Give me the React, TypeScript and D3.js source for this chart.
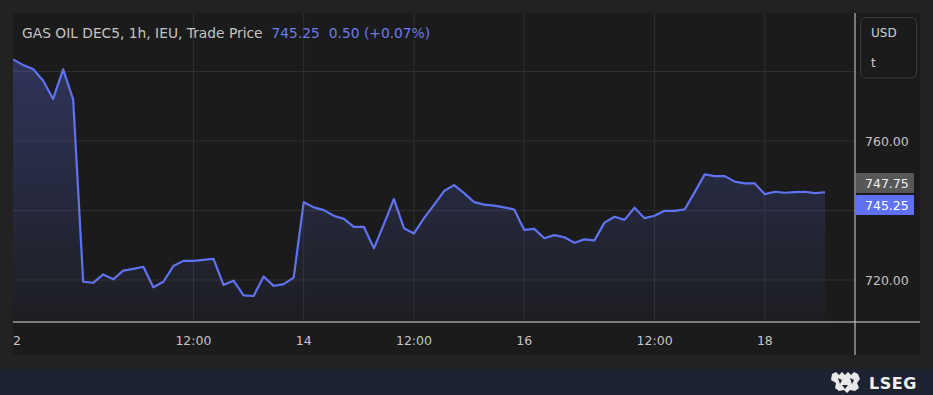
import React from "react";
import * as d3 from "d3";

const prices: number[] = [
  783.5, 781.9, 780.7, 777.4, 772.1, 780.6, 772.0, 719.5, 719.2, 721.6,
  720.2, 722.7, 723.2, 723.8, 717.9, 719.5, 724.0, 725.5, 725.5, 725.8,
  726.1, 718.6, 719.8, 715.6, 715.4, 721.0, 718.3, 718.8, 720.7, 742.4,
  740.9, 740.1, 738.5, 737.6, 735.3, 735.3, 729.1, 736.1, 743.3, 734.9,
  733.4, 737.8, 741.6, 745.6, 747.3, 745.0, 742.4, 741.7, 741.4, 740.9,
  740.3, 734.4, 734.7, 732.0, 732.9, 732.3, 730.7, 731.7, 731.4, 736.5,
  738.2, 737.3, 740.8, 737.8, 738.5, 739.9, 739.9, 740.3, 745.3, 750.4,
  749.9, 749.9, 748.3, 747.8, 747.8, 744.7, 745.4, 745.1, 745.3, 745.4,
  745.0, 745.25,
];

const xTickIndex: number[] = [0, 18, 29, 40, 51, 64, 75];
const xTickLabels: string[] = ["12", "12:00", "14", "12:00", "16", "12:00", "18"];
const yGridValues: number[] = [720, 740, 760, 780];
const yLabelValues: number[] = [720, 760];

const title = "GAS OIL DEC5, 1h, IEU, Trade Price";
const lastPrice = 745.25;
const change = "0.50 (+0.07%)";
const refPrice = 747.75;

const W = 933;
const H = 395;
const plotLeft = 13;
const plotRight = 855;
const plotTop = 13;
const plotBottom = 322;
const FONT = "'DejaVu Sans', 'Open Sans', sans-serif";
const LINE = "#5f72f2";

export default function App() {
  const x = d3.scaleLinear().domain([0, prices.length - 1]).range([13, 825]);
  const y = d3.scaleLinear().domain([720, 760]).range([280, 141]);

  const line = d3
    .line<number>()
    .x((_, i) => x(i))
    .y((d) => y(d));
  const area = d3
    .area<number>()
    .x((_, i) => x(i))
    .y0(plotBottom)
    .y1((d) => y(d));

  React.useEffect(() => {
    document.body.style.margin = "0";
    document.body.style.background = "#222222";
  }, []);

  return (
    <svg
      width={W}
      height={H}
      style={{ position: "absolute", left: 0, top: 0, display: "block" }}
      fontFamily={FONT}
    >
      <defs>
        <linearGradient id="areaGrad" gradientUnits="userSpaceOnUse" x1="0" y1="55" x2="0" y2={plotBottom}>
          <stop offset="0%" stopColor={LINE} stopOpacity={0.3} />
          <stop offset="100%" stopColor={LINE} stopOpacity={0.03} />
        </linearGradient>
        <clipPath id="plotClip">
          <rect x={plotLeft} y={plotTop} width={plotRight - plotLeft} height={plotBottom - plotTop} />
        </clipPath>
        <clipPath id="axisClip">
          <rect x={plotLeft} y={plotBottom} width={plotRight - plotLeft} height={355 - plotBottom} />
        </clipPath>
      </defs>

      <rect x={0} y={0} width={W} height={H} fill="#222222" />
      {/* panel */}
      <rect x={plotLeft} y={plotTop} width={920 - plotLeft} height={355 - plotTop} fill="#1b1b1b" />
      {/* bottom band */}
      <rect x={0} y={369} width={W} height={H - 369} fill="#1d2230" />

      {/* grid */}
      {yGridValues.map((v) => (
        <line key={"gy" + v} x1={plotLeft} x2={plotRight} y1={y(v)} y2={y(v)} stroke="#2e2e2e" strokeWidth={1} />
      ))}
      {xTickIndex.slice(1).map((i) => (
        <line key={"gx" + i} x1={x(i)} x2={x(i)} y1={plotTop} y2={plotBottom} stroke="#2e2e2e" strokeWidth={1} />
      ))}

      <g clipPath="url(#plotClip)">
        <path d={area(prices) || ""} fill="url(#areaGrad)" />
        <path d={line(prices) || ""} fill="none" stroke={LINE} strokeWidth={2.2} strokeLinejoin="round" />
      </g>

      {/* title */}
      <text x={22} y={37.5} fontSize={13.8} fill="#c4c4c4">
        {title}
        <tspan fill="#6a7de8" dx={9}>{lastPrice.toFixed(2)}</tspan>
        <tspan fill="#6a7de8" dx={9}>{change}</tspan>
      </text>

      {/* axes lines */}
      <line x1={plotLeft} x2={920} y1={plotBottom} y2={plotBottom} stroke="#9c9c9c" strokeWidth={1.5} />
      <line x1={plotRight} x2={plotRight} y1={plotTop} y2={355} stroke="#d8d8d8" strokeWidth={1} />

      {/* x labels */}
      <g clipPath="url(#axisClip)">
        {xTickIndex.map((i, k) => (
          <text key={"xl" + k} x={x(i)} y={345} textAnchor="middle" fontSize={12.5} fill="#c4c4c4">
            {xTickLabels[k]}
          </text>
        ))}
      </g>

      {/* y labels */}
      {yLabelValues.map((v) => (
        <text key={"yl" + v} x={865} y={y(v) + 4.5} fontSize={12.5} fill="#c4c4c4">
          {v.toFixed(2)}
        </text>
      ))}

      {/* price tags */}
      <rect x={856} y={173} width={58} height={20} fill="#575757" rx={1} />
      <text x={865} y={187.5} fontSize={12.5} fill="#f0f0f0">{refPrice.toFixed(2)}</text>
      <rect x={856} y={195} width={58} height={20} fill="#5f72f7" rx={1} />
      <text x={865} y={209.5} fontSize={12.5} fill="#ffffff">{lastPrice.toFixed(2)}</text>

      {/* USD box */}
      <rect x={860.5} y={17.5} width={56} height={60.5} rx={5} fill="#1b1b1b" stroke="#3a3a3a" strokeWidth={1} />
      <text x={871} y={37} fontSize={12} fill="#d0d0d0">USD</text>
      <text x={871} y={67} fontSize={12} fill="#d0d0d0">t</text>

      {/* LSEG logo */}
      <g transform="translate(830,371)">
        <path
          d="M2 3 L6 1 L9 4 L12 1 L15 4 L18 1 L21 4 L24 1 L28 3 L30 8 L27 12 L29 17 L25 20 L20 19 L17 22 L14 19 L9 20 L5 17 L6 12 L1 9 Z"
          fill="#e8e8e8"
        />
        <path d="M8 7 L12 9 L10 13 Z M20 7 L24 9 L22 13 Z M12 14 L18 14 L15 18 Z" fill="#1d2230" />
      </g>
      <text x={869} y={389} fontSize={16} fontWeight={700} fill="#f2f2f2" letterSpacing={0.5}>LSEG</text>
    </svg>
  );
}
